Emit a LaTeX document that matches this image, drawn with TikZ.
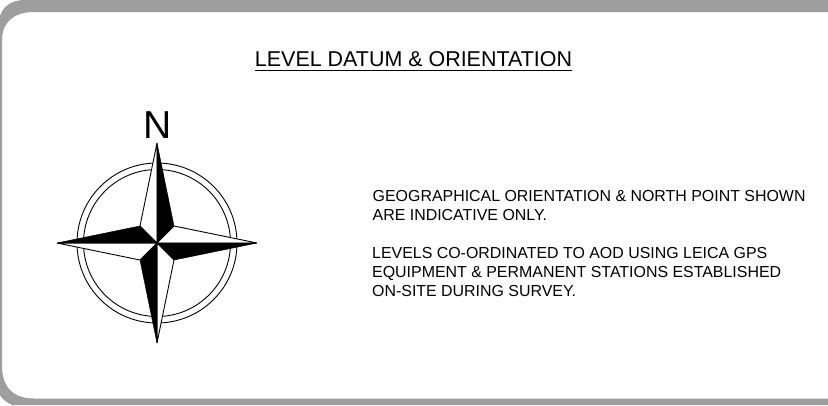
\documentclass[tikz,border=0pt]{standalone}
\usepackage{fontspec}
\setmainfont{Liberation Sans}
\definecolor{framegrey}{RGB}{158,158,158}
\tikzset{
  x=1pt,y=-1pt,
  frameline/.style={fill=framegrey,draw=none,even odd rule},
  ring/.style={draw=black,line width=0.9pt,fill=none},
  pointwhite/.style={draw=black,fill=white,line width=0.9pt,line join=bevel},
  pointblack/.style={draw=black,fill=black,line width=0.5pt,line join=bevel},
  bodytext/.style={anchor=base west,inner sep=0pt,font=\fontsize{15.93pt}{18pt}\selectfont},
}
\begin{document}
\begin{tikzpicture}
\useasboundingbox (0,0) rectangle (828,405);
\fill[white] (0,0) rectangle (828,405);
\path[frameline] (0,16) .. controls (3,6) and (12,0) .. (25,0) -- (828,0) -- (828,405) -- (12,405)
  .. controls (6,402) and (2,399) .. (0,395) -- cycle
  (2,40) .. controls (2,22) and (14,12) .. (34,12) -- (828,12) -- (828,398.5) -- (34,398.5)
  .. controls (14,398.5) and (2,388) .. (2,366) -- cycle;
\node[anchor=base,inner sep=0pt,font=\fontsize{21.45pt}{24pt}\selectfont] (title) at (413.5,66.5) {LEVEL DATUM \& ORIENTATION};
\draw[line width=0.9pt] (255,70.5) -- (572,70.5);
\node[anchor=base,inner sep=0pt,font=\fontsize{39pt}{44pt}\selectfont] (north) at (157.3,138) {N};
\draw[ring] (157,243) circle[radius=80];
\draw[ring] (157,243) circle[radius=73.5];
\path[pointwhite] (157,143) -- (140,226) -- (157,243) -- cycle;
\path[pointblack] (157,143) -- (174,226) -- (157,243) -- cycle;
\path[pointwhite] (257,243) -- (174,226) -- (157,243) -- cycle;
\path[pointblack] (257,243) -- (174,260) -- (157,243) -- cycle;
\path[pointwhite] (157,343) -- (174,260) -- (157,243) -- cycle;
\path[pointblack] (157,343) -- (140,260) -- (157,243) -- cycle;
\path[pointwhite] (57,243) -- (140,260) -- (157,243) -- cycle;
\path[pointblack] (57,243) -- (140,226) -- (157,243) -- cycle;
\node[bodytext] (a1) at (372.5,201) {GEOGRAPHICAL ORIENTATION \& NORTH POINT SHOWN};
\node[bodytext] (a2) at (372.5,220) {ARE INDICATIVE ONLY.};
\node[bodytext] (b1) at (372,258) {LEVELS CO-ORDINATED TO AOD USING LEICA GPS};
\node[bodytext] (b2) at (372,277) {EQUIPMENT \& PERMANENT STATIONS ESTABLISHED};
\node[bodytext] (b3) at (372,296) {ON-SITE DURING SURVEY.};
\end{tikzpicture}
\end{document}
